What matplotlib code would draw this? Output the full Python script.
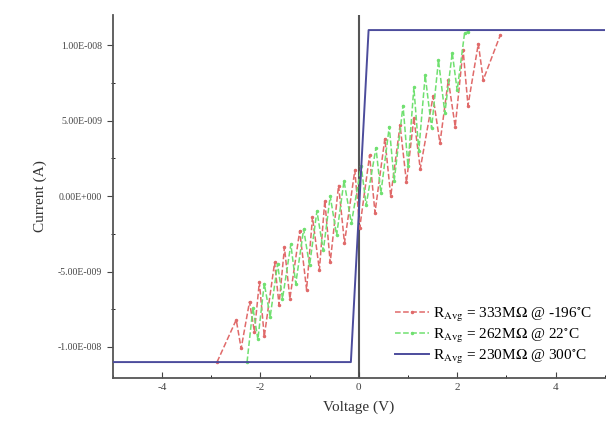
import numpy as np
import matplotlib.pyplot as plt
from matplotlib.ticker import MultipleLocator, FuncFormatter

plt.rcParams['font.family'] = 'Liberation Serif'
plt.rcParams['mathtext.fontset'] = 'stix'
plt.rcParams['axes.unicode_minus'] = False

# -196 C sweep (V, nA)
v_cold = [-2.88, -2.49, -2.39, -2.22, -2.12, -2.02, -1.92, -1.71, -1.62, -1.51,
          -1.40, -1.20, -1.06, -0.94, -0.80, -0.69, -0.58, -0.41, -0.29, -0.08,
          0.02, 0.22, 0.33, 0.53, 0.65, 0.84, 0.97, 1.12, 1.25, 1.51, 1.65,
          1.82, 1.96, 2.12, 2.22, 2.43, 2.53, 2.88]
i_cold = [-11.0, -8.2, -10.1, -7.0, -9.0, -5.7, -9.3, -4.4, -7.2, -3.4,
          -6.8, -2.3, -6.2, -1.4, -4.9, -0.3, -4.4, 0.7, -3.1, 1.7,
          -2.1, 2.7, -1.1, 3.8, 0.0, 4.7, 0.9, 5.2, 1.8, 6.6, 3.5,
          7.7, 4.6, 9.7, 6.0, 10.1, 7.7, 10.7]

# 22 C sweep
v_room = [-2.27, -2.15, -2.05, -1.92, -1.80, -1.65, -1.55, -1.38, -1.28, -1.12,
          -1.00, -0.85, -0.72, -0.58, -0.45, -0.30, -0.15, 0.05, 0.15, 0.35,
          0.45, 0.62, 0.72, 0.90, 1.00, 1.12, 1.22, 1.35, 1.48, 1.62, 1.75,
          1.90, 2.00, 2.15, 2.22]
i_room = [-11.0, -7.4, -9.5, -5.8, -8.0, -4.5, -6.8, -3.2, -5.8, -2.2,
          -4.6, -1.0, -3.6, 0.0, -2.6, 1.0, -1.8, 2.0, -0.6, 3.2,
          0.2, 4.6, 1.0, 6.0, 2.0, 7.2, 3.0, 8.0, 4.5, 9.0, 5.5,
          9.5, 7.0, 10.8, 10.9]

# 300 C sweep
v_hot = [-5.0, -0.16, 0.2, 5.0]
i_hot = [-11.0, -11.0, 11.0, 11.0]

labels = [r'R$_{\rm Avg}$ = 333M$\Omega$ @ -196$^{\circ}$C',
          r'R$_{\rm Avg}$ = 262M$\Omega$ @ 22$^{\circ}$C',
          r'R$_{\rm Avg}$ = 230M$\Omega$ @ 300$^{\circ}$C']
colors = ['#e06a6a', '#70e070', '#4c4c9c']

fig = plt.figure(figsize=(6.06, 4.28), dpi=100)
ax = fig.add_axes([0.186, 0.117, 0.812, 0.848])

ax.axvline(0, color='#555555', lw=1.5, zorder=1)
ax.plot(v_cold, np.array(i_cold) * 1e-9, '--', marker='.', ms=3, color=colors[0],
        lw=1.1, label=labels[0], zorder=2)
ax.plot(v_room, np.array(i_room) * 1e-9, '--', marker='.', ms=3, color=colors[1],
        lw=1.1, label=labels[1], zorder=2)
ax.plot(v_hot, np.array(i_hot) * 1e-9, '-', color=colors[2],
        lw=1.4, label=labels[2], zorder=3)

ax.set_xlim(-5, 5)
ax.set_ylim(-1.205e-8, 1.2e-8)
ax.xaxis.set_major_locator(MultipleLocator(2))
ax.xaxis.set_minor_locator(MultipleLocator(1))
ax.yaxis.set_major_locator(MultipleLocator(5e-9))
ax.yaxis.set_minor_locator(MultipleLocator(2.5e-9))


def sci(v, pos):
    m, e = f'{v:.2E}'.split('E')
    return f'{m}E{e[0]}{int(e[1:]):03d}'


ax.yaxis.set_major_formatter(FuncFormatter(sci))
ax.tick_params(axis='x', direction='in', length=4, labelsize=8, colors='#444444')
ax.tick_params(axis='x', which='minor', direction='in', length=2)
ax.tick_params(axis='y', direction='out', length=4, labelsize=7, colors='#444444')
ax.tick_params(axis='y', which='minor', direction='inout', length=3)

for s in ['top', 'right']:
    ax.spines[s].set_visible(False)
for s in ['left', 'bottom']:
    ax.spines[s].set_color('#555555')
    ax.spines[s].set_linewidth(1.3)

ax.set_xlabel('Voltage (V)', fontsize=11, color='#333333', labelpad=6)
ax.set_ylabel('Current (A)', fontsize=11, color='#333333', labelpad=8)

ax.legend(loc='lower right', frameon=False, fontsize=11, handlelength=2.2,
          handletextpad=0.3, labelspacing=0.2, borderaxespad=0.4)

plt.savefig('out.png')
